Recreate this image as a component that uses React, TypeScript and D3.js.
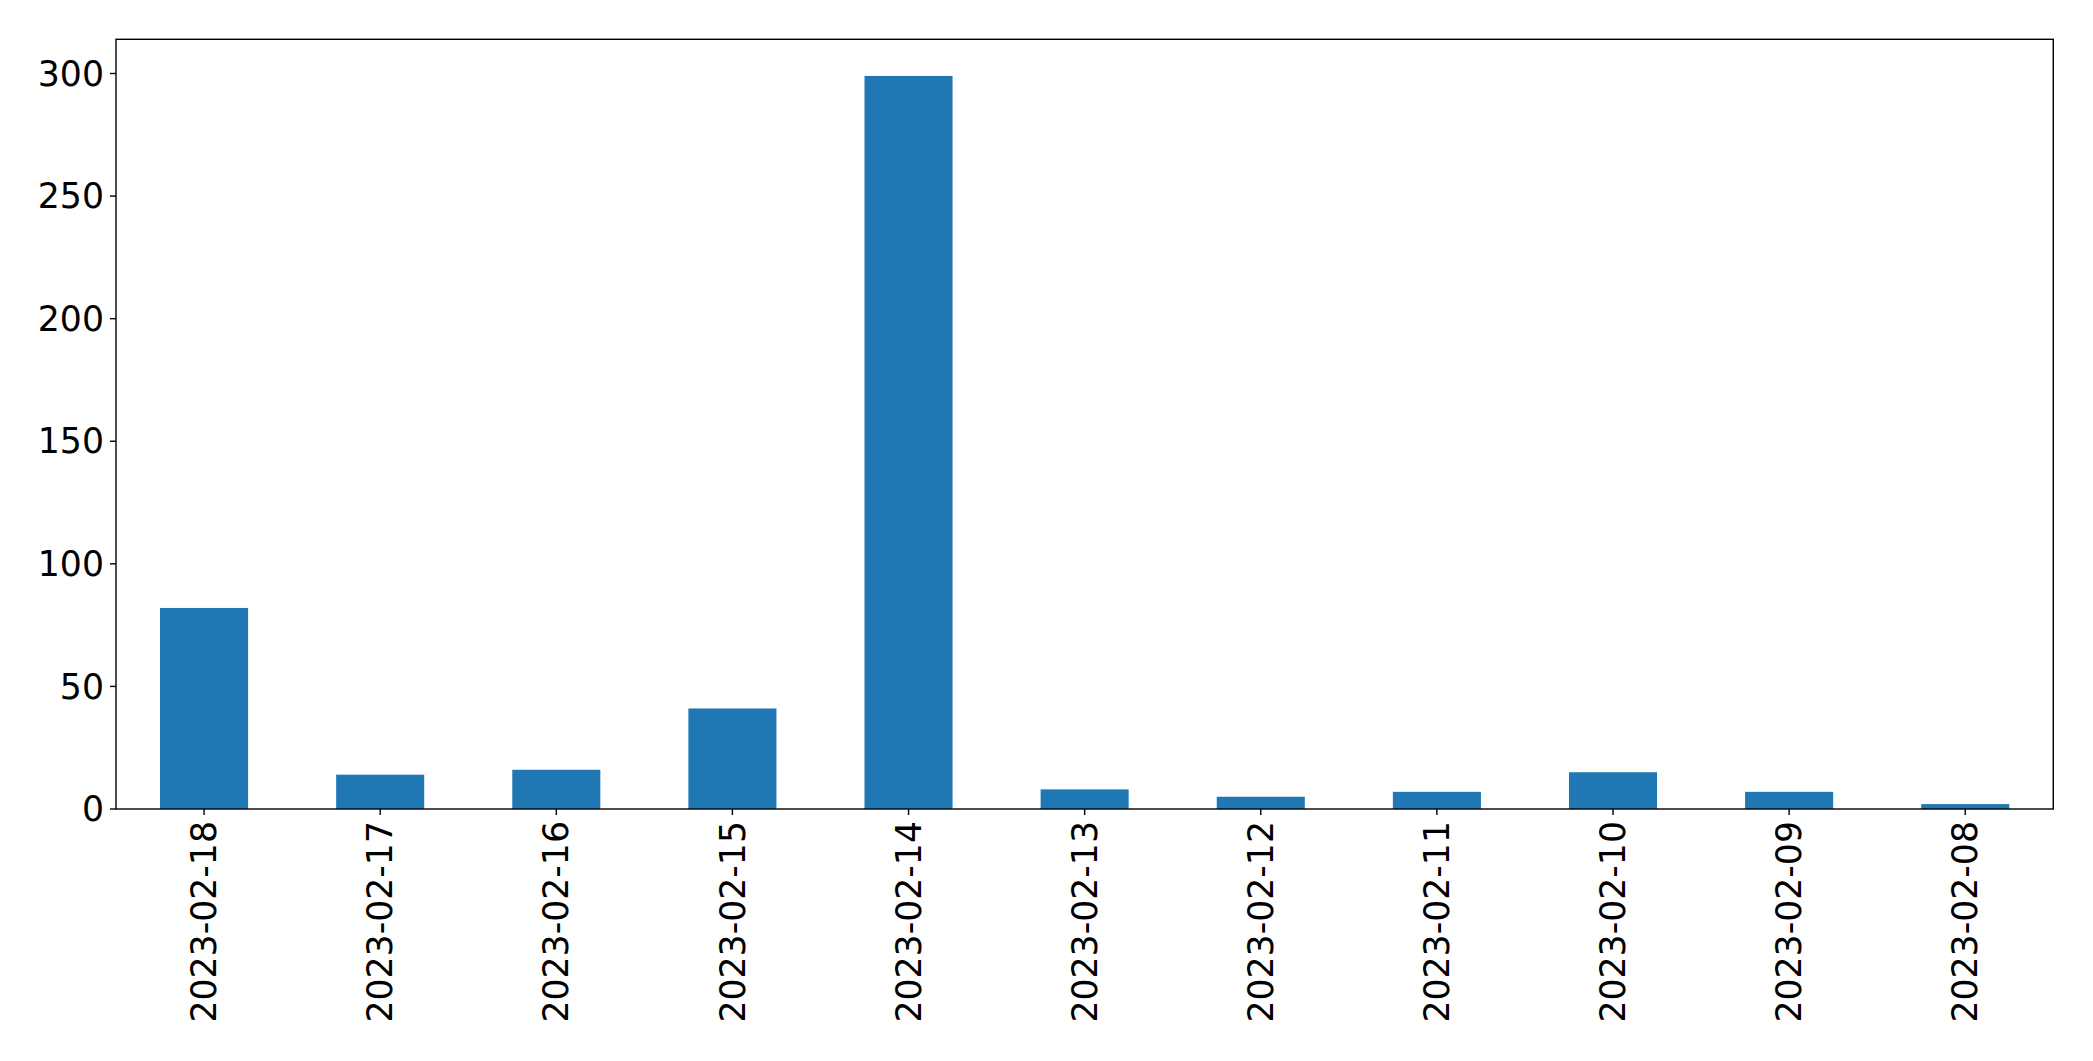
import React from "react";
import * as d3 from "d3";

const categories = [
  "2023-02-18", "2023-02-17", "2023-02-16", "2023-02-15", "2023-02-14",
  "2023-02-13", "2023-02-12", "2023-02-11", "2023-02-10", "2023-02-09", "2023-02-08",
];
const values = [82, 14, 16, 41, 299, 8, 5, 7, 15, 7, 2];
const yTicks = [0, 50, 100, 150, 200, 250, 300];

const W = 2093;
const H = 1061;
const left = 116;
const right = 2053.3;
const top = 39.3;
const bottom = 809;
const fontSize = 34.7;
const tickLen = 6;
const pad = 6;
const lw = 1.4;

export default function App() {
  const x = d3.scaleBand<string>().domain(categories).range([left, right]).paddingInner(0.5).paddingOuter(0.25);
  const yMax = d3.max(values)! * 1.05;
  const y = d3.scaleLinear().domain([0, yMax]).range([bottom, top]);
  const font = "'DejaVu Sans', sans-serif";
  return (
    <svg width={W} height={H} style={{ position: "absolute", left: 0, top: 0, background: "#fff" }}>
      <rect x={0} y={0} width={W} height={H} fill="#fff" />
      {categories.map((c, i) => (
        <rect key={c} x={x(c)!} y={y(values[i])} width={x.bandwidth()} height={bottom - y(values[i])} fill="#1f77b4" />
      ))}
      <rect x={left} y={top} width={right - left} height={bottom - top} fill="none" stroke="#000" strokeWidth={lw} />
      {yTicks.map((t) => (
        <g key={t}>
          <line x1={left - tickLen} x2={left} y1={y(t)} y2={y(t)} stroke="#000" strokeWidth={lw} />
          <text x={left - tickLen - pad} y={y(t)} dy="0.35em" textAnchor="end" fontFamily={font} fontSize={fontSize} fill="#000">
            {t}
          </text>
        </g>
      ))}
      {categories.map((c) => {
        const cx = x(c)! + x.bandwidth() / 2;
        return (
          <g key={c}>
            <line x1={cx} x2={cx} y1={bottom} y2={bottom + tickLen} stroke="#000" strokeWidth={lw} />
            <text
              transform={`translate(${cx},${bottom + tickLen + pad}) rotate(-90)`}
              dy="0.35em"
              textAnchor="end"
              fontFamily={font}
              fontSize={fontSize}
              fill="#000"
            >
              {c}
            </text>
          </g>
        );
      })}
    </svg>
  );
}
